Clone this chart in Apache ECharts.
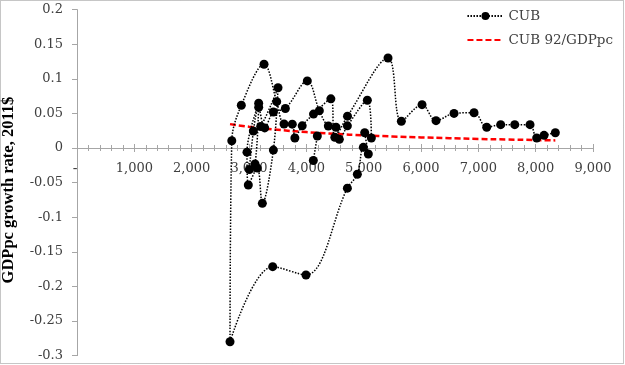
<!DOCTYPE html>
<html>
<head>
<meta charset="utf-8">
<script src="https://cdn.jsdelivr.net/npm/echarts@6/dist/echarts.min.js"></script>
<style>
html,body{margin:0;padding:0;background:#fff;}
#c{width:625px;height:365px;}
</style>
</head>
<body>
<div id="c"></div>
<script>
// GDP per capita (2011$) in time order; null = gap in the series
const gdppc = [4122,4192,null,
  3076,3204,3506,3425,3233,3145,2988,2965,3169,3105,3006,3169,3274,
  3425,3634,4017,4227,4384,4518,4576,4716,5064,5134,5018,5081,4994,4890,4716,3994,3413,2669,
  2700,2866,3262,3483,3611,3755,3800,3928,4125,4428,4497,4718,5425,5657,6018,6262,6576,6925,7146,7390,7635,7902,8018,8146,8343];
// GDPpc growth rate, same order
const growth = [-0.018,0.0173,null,
  0.0246,0.031,0.087,-0.003,-0.080,-0.029,-0.0535,-0.006,0.0646,-0.023,-0.031,0.0588,0.029,
  0.052,0.057,0.097,0.054,0.0318,0.030,0.0125,0.032,0.069,0.0145,0.022,-0.0087,0.001,-0.038,-0.058,-0.1835,-0.1715,-0.280,
  0.0105,0.0617,0.121,0.067,0.0347,0.0345,0.0145,0.032,0.049,0.071,0.0155,0.046,0.130,0.0386,0.0626,0.0395,0.050,0.051,0.030,0.0337,0.0337,0.0337,0.0145,0.0183,0.022];
// red reference curve 92/GDPpc
const refX = [2669,3000,3500,4000,4500,5000,5500,6000,6500,7000,7500,8000,8343];
const refY = [0.0345,0.0307,0.0263,0.0230,0.0204,0.0184,0.0167,0.0153,0.0142,0.0131,0.0123,0.0115,0.0110];
const xTickLabels = ['-','1,000','2,000','3,000','4,000','5,000','6,000','7,000','8,000','9,000'];
const yTickLabels = ['-0.3','-0.25','-0.2','-0.15','-0.1','-0.05','0','0.05','0.1','0.15','0.2'];
const seriesNames = ['CUB','CUB 92/GDPpc'];

const tickFont = {fontFamily:'DejaVu Serif', fontSize:13, color:'#404040'};
const chart = echarts.init(document.getElementById('c'), null, {renderer:'canvas'});
const axisGray = '#a6a6a6';
// the zero label is drawn separately below (the axis hides it at the crossing)
function xLab(v){ const i = Math.round(v/1000); return i === 0 ? '' : xTickLabels[i]; }
function yLab(v){ return yTickLabels[Math.round((v+0.3)/0.05)]; }

const gridTop = 9.6, gridH = 346, yMin = -0.3, yMax = 0.2;
// distance from the bottom edge of the plot up to the y = 0 line
const zeroOffset = -gridH * (0 - yMin) / (yMax - yMin);
const xLabelMargin = 14;

chart.setOption({
  animation:false,
  backgroundColor:'#fff',
  grid:{left:77,right:32,top:gridTop,height:gridH,containLabel:false,outerBoundsMode:'none'},
  graphic:[{id:'frame',type:'rect',shape:{x:0.5,y:0.5,width:623,height:363},style:{fill:'none',stroke:'#8c8c8c',lineWidth:1,lineDash:[1,1]}}],
  legend:{
    data:[{name:seriesNames[0]},{name:seriesNames[1],itemStyle:{color:'rgba(0,0,0,0)',borderWidth:0}}],
    orient:'vertical', right:7, top:4, itemWidth:36, itemHeight:10, itemGap:10,
    textStyle:{fontFamily:'DejaVu Serif', fontSize:13.5, color:'#404040'}
  },
  xAxis:[{
    type:'value', min:0, max:9000, interval:1000, position:'bottom', offset:zeroOffset,
    axisLine:{onZero:false, lineStyle:{color:axisGray,width:1}},
    axisTick:{show:true, inside:false, length:4, lineStyle:{color:axisGray}},
    minorTick:{show:true, splitNumber:5, length:3, lineStyle:{color:axisGray}},
    axisLabel:Object.assign({formatter:xLab, margin:xLabelMargin, showMinLabel:true, showMaxLabel:true, hideOverlap:false}, tickFont),
    splitLine:{show:false}
  },{
    type:'value', min:0, max:9000, interval:1000, position:'bottom', offset:zeroOffset,
    axisLine:{onZero:false, show:false},
    axisTick:{show:true, inside:true, length:4, lineStyle:{color:axisGray}},
    minorTick:{show:true, splitNumber:5, length:3, lineStyle:{color:axisGray}},
    axisLabel:{show:false}, splitLine:{show:false}
  }],
  yAxis:{
    type:'value', min:yMin, max:yMax, interval:0.05,
    name:'GDPpc growth rate, 2011$', nameLocation:'middle', nameGap:60, nameRotate:90,
    nameTextStyle:{fontFamily:'Liberation Serif', fontWeight:'bold', fontSize:16.5, color:'#000', padding:[0,15,0,0]},
    axisLine:{show:true, onZero:false, lineStyle:{color:axisGray}},
    axisTick:{show:true, inside:false, length:5, lineStyle:{color:axisGray}},
    axisLabel:Object.assign({formatter:yLab, margin:14, showMinLabel:true, showMaxLabel:true}, tickFont),
    splitLine:{show:false}
  },
  series:[{
    name:seriesNames[0], type:'line', smooth:0.35, connectNulls:false,
    data:gdppc.map((x,i)=> x===null ? [null,null] : [x,growth[i]]),
    symbol:'circle', symbolSize:9, showSymbol:true,
    itemStyle:{color:'#000'},
    lineStyle:{color:'#000', width:1.5, type:[1.5,1.5]},
    z:3
  },{
    name:seriesNames[1], type:'line', smooth:true,
    data:refX.map((x,i)=>[x,refY[i]]),
    symbol:'none', showSymbol:false,
    itemStyle:{color:'#ff0000'},
    lineStyle:{color:'#ff0000', width:2.5, type:[6,3]},
    z:2
  }]
});

// the origin tick label ("-" for zero), placed through the axes' own scales
const origin = chart.convertToPixel({gridIndex:0}, [0, 0]);
chart.setOption({graphic:[{id:'zeroLabel', type:'text', x:origin[0]-2, y:origin[1]+xLabelMargin+7, z:10,
  style:{text:xTickLabels[0], fontFamily:'DejaVu Serif', fontSize:14, fill:'#404040', align:'center', verticalAlign:'middle'}}]});
</script>
</body>
</html>
